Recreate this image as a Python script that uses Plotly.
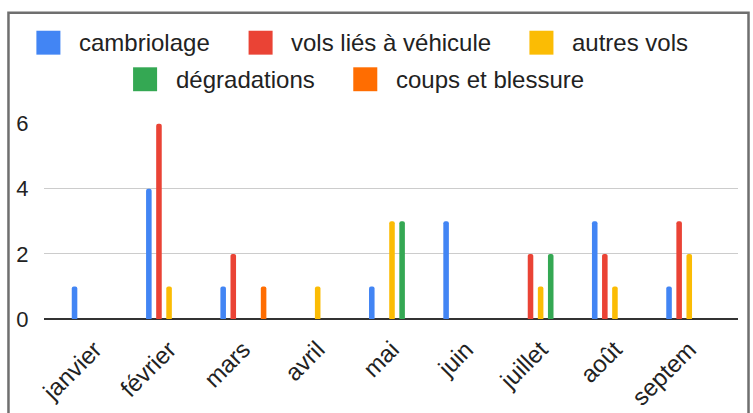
import plotly.graph_objects as go

# ---- data ----
categories = ["janvier", "février", "mars", "avril", "mai", "juin", "juillet", "août", "septem"]
series_names = ["cambriolage", "vols liés à véhicule", "autres vols", "dégradations", "coups et blessure"]
cambriolage = [1, 4, 1, 0, 1, 3, 0, 3, 1]
vols_vehicule = [0, 6, 2, 0, 0, 0, 2, 2, 3]
autres_vols = [0, 1, 0, 1, 3, 0, 1, 1, 2]
degradations = [0, 0, 0, 0, 3, 0, 2, 0, 0]
coups_blessure = [0, 0, 1, 0, 0, 0, 0, 0, 0]
y_ticks = [0, 2, 4, 6]

series_values = [cambriolage, vols_vehicule, autres_vols, degradations, coups_blessure]
colors = ["#4285F4", "#EA4335", "#FBBC04", "#34A853", "#FF6D01"]

FONT = "Arial, Liberation Sans, sans-serif"
W, H = 753, 413
L, R = 44.3, 737.7
T, B = 122.6, 319.3
PW, PH = R - L, B - T


def px(x):
    return (x - L) / PW


def py(y):
    return (B - y) / PH


fig = go.Figure()
for name, vals, col in zip(series_names, series_values, colors):
    fig.add_trace(go.Bar(
        x=list(range(len(categories))), y=vals, name=name,
        marker=dict(color=col, line=dict(width=0), cornerradius=3),
        showlegend=False,
    ))

# ---- custom legend (Google-style large square swatches) ----
legend_pos = [(36.7, 42.0), (248.7, 42.0), (529.3, 42.0), (133.3, 78.7), (353.3, 78.7)]
shapes = []
annotations = []
for (sx, sy), name, col in zip(legend_pos, series_names, colors):
    shapes.append(dict(type="rect", xref="paper", yref="paper",
                       x0=px(sx), x1=px(sx + 24), y0=py(sy + 12), y1=py(sy - 12),
                       fillcolor=col, line=dict(width=0), layer="above"))
    annotations.append(dict(xref="paper", yref="paper", x=px(sx + 40.6), y=py(sy),
                            xanchor="left", yanchor="middle", showarrow=False,
                            text=name, font=dict(family=FONT, size=24, color="#222222")))

# outer border
shapes.append(dict(type="rect", xref="paper", yref="paper",
                   x0=px(8.8), x1=px(748.2), y0=py(430), y1=py(12),
                   line=dict(color="#6f6f6f", width=2.5), fillcolor="rgba(0,0,0,0)", layer="above"))

fig.update_layout(
    width=W, height=H,
    margin=dict(l=L, r=W - R, t=T, b=H - B, pad=0),
    paper_bgcolor="white", plot_bgcolor="white",
    barmode="group", bargap=0.32, bargroupgap=0.45,
    shapes=shapes, annotations=annotations,
    font=dict(family=FONT, color="#222222"),
    xaxis=dict(
        tickmode="array", tickvals=list(range(len(categories))), ticktext=categories,
        range=[-0.683, 8.656], tickangle=-45, showgrid=False, zeroline=False,
        ticks="outside", ticklen=6, tickcolor="rgba(0,0,0,0)",
        tickfont=dict(family=FONT, size=24, color="#222222"),
        automargin=False, fixedrange=True,
    ),
    yaxis=dict(
        range=[0, 6.02], tickmode="array", tickvals=y_ticks,
        showgrid=True, gridcolor="#cccccc", gridwidth=1.3,
        zeroline=True, zerolinecolor="#333333", zerolinewidth=1.6,
        ticks="outside", ticklen=10, tickcolor="rgba(0,0,0,0)",
        tickfont=dict(family=FONT, size=22, color="#222222"),
        automargin=False, fixedrange=True,
    ),
)

fig.write_html(
    "out.html",
    config=dict(displayModeBar=False),
    post_script="document.body.style.margin='0';document.body.style.padding='0';",
)
